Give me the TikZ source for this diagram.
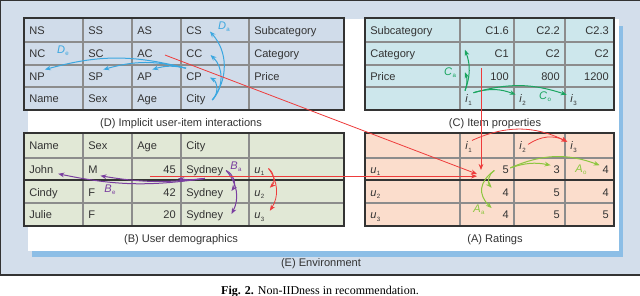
\documentclass[tikz,border=0pt]{standalone}
\usepackage{fontspec}
\setmainfont{Liberation Sans}
\newfontfamily\capfont{Liberation Serif}
\usetikzlibrary{arrows.meta, calc}

\definecolor{envbg}{HTML}{D3DEEB}
\definecolor{shadowblue}{HTML}{8CBEE6}
\definecolor{implbg}{HTML}{D0DCEA}
\definecolor{itembg}{HTML}{CDE7EC}
\definecolor{userbg}{HTML}{E1E8D6}
\definecolor{ratebg}{HTML}{FBDDCC}
\definecolor{txt}{HTML}{333333}
\definecolor{dblue}{HTML}{3BA7E0}
\definecolor{cgreen}{HTML}{1AA560}
\definecolor{bpurple}{HTML}{7A3FA0}
\definecolor{agreen}{HTML}{8DC63F}
\definecolor{rred}{HTML}{EE3B3B}

\newcommand\varlab[2]{\textit{#1}\kern0.3pt\raisebox{-1.6pt}{\fontsize{4.6}{5}\selectfont #2}}

\tikzset{
  cell0/.style={anchor=base west, inner sep=0pt, text height=6pt, text depth=1.5pt,
    font=\fontsize{8.3}{10}\selectfont, text=txt},
  cell1/.style={cell0, anchor=base east},
  cellline/.style={draw=gray!90, line width=0.8pt},
  tabframe/.style={draw=txt, line width=1.3pt},
  link/.style={-{Stealth[length=4.5pt,width=3.5pt]}, line width=0.75pt},
  dlink/.style={link, draw=dblue},
  clink/.style={link, draw=cgreen},
  blink/.style={link, draw=bpurple},
  alink/.style={link, draw=agreen},
  rlink/.style={link, draw=rred, line width=0.6pt},
  lbl/.style={inner sep=0pt, font=\fontsize{8.3}{10}\selectfont},
  panel/.style={anchor=base, font=\fontsize{8.3}{10}\selectfont, text=txt},
}

\begin{document}
\begin{tikzpicture}[x=0.75pt, y=-0.75pt]
  \useasboundingbox (0,0) rectangle (640,296);
  \fill[white] (0,0) rectangle (640,296);
  % environment
  \filldraw[fill=envbg, draw=txt, line width=1pt] (0.5,0.5) rectangle (646,275);
  \fill[shadowblue] (32,26) rectangle (623,257);
  \fill[white] (28,19) rectangle (619,251);

  % (D) implicit user-item interactions
  \fill[implbg] (24,18) rectangle (344,110);
  \foreach \x in {83,132,181,249} \draw[cellline] (\x,18) -- (\x,110);
  \foreach \y in {42,65,87} \draw[cellline] (24,\y) -- (344,\y);
  \draw[tabframe] (24,18) rectangle (344,110);
  \foreach \row [count=\r] in {{NS/0,SS/0,AS/0,CS/0,Subcategory/0},{NC/0,SC/0,AC/0,CC/0,Category/0},
      {NP/0,SP/0,AP/0,CP/0,Price/0},{Name/0,Sex/0,Age/0,City/0}}
    \foreach \t/\a [count=\c] in \row {
      \pgfmathsetmacro\x{\a ? {24,83,132,181,249,344}[\c]-5 : {24,83,132,181,249,344}[\c-1]+5}
      \pgfmathsetmacro\y{{34.5,58,80.5,103}[\r-1]}
      \node[cell\a] (D-\r-\c) at (\x,\y) {\t};
    }

  % (C) item properties
  \fill[itembg] (365,18) rectangle (614,110);
  \foreach \x in {460,514,565} \draw[cellline] (\x,18) -- (\x,110);
  \foreach \y in {42,65,87} \draw[cellline] (365,\y) -- (614,\y);
  \draw[tabframe] (365,18) rectangle (614,110);
  \foreach \row [count=\r] in {{Subcategory/0,C1.6/1,C2.2/1,C2.3/1},{Category/0,C1/1,C2/1,C2/1},
      {Price/0,100/1,800/1,1200/1},{/0,\varlab{i}{1}/0,\varlab{i}{2}/0,\varlab{i}{3}/0}}
    \foreach \t/\a [count=\c] in \row {
      \pgfmathsetmacro\x{\a ? {365,460,514,565,614}[\c]-5 : {365,460,514,565,614}[\c-1]+5}
      \pgfmathsetmacro\y{{34.5,58,80.5,103}[\r-1]}
      \node[cell\a] (C-\r-\c) at (\x,\y) {\t};
    }

  % (B) user demographics
  \fill[userbg] (24,133) rectangle (344,226);
  \foreach \x in {83,132,181,249} \draw[cellline] (\x,133) -- (\x,226);
  \foreach \y in {158,203} \draw[cellline] (24,\y) -- (344,\y);
  \draw[tabframe] (24,180) -- (344,180);
  \draw[tabframe] (24,133) rectangle (344,226);
  \foreach \row [count=\r] in {{Name/0,Sex/0,Age/0,City/0},{John/0,M/0,45/1,Sydney/0,\varlab{u}{1}/0},
      {Cindy/0,F/0,42/1,Sydney/0,\varlab{u}{2}/0},{Julie/0,F/0,20/1,Sydney/0,\varlab{u}{3}/0}}
    \foreach \t/\a [count=\c] in \row {
      \pgfmathsetmacro\x{\a ? {24,83,132,181,249,344}[\c]-5 : {24,83,132,181,249,344}[\c-1]+5}
      \pgfmathsetmacro\y{{150,173.5,196,219}[\r-1]}
      \node[cell\a] (B-\r-\c) at (\x,\y) {\t};
    }

  % (A) ratings
  \fill[ratebg] (365,133) rectangle (614,226);
  \foreach \x in {460,514,565} \draw[cellline] (\x,133) -- (\x,226);
  \foreach \y in {158,203} \draw[cellline] (365,\y) -- (614,\y);
  \draw[tabframe] (365,180) -- (614,180);
  \draw[tabframe] (365,133) rectangle (614,226);
  \foreach \row [count=\r] in {{/0,\varlab{i}{1}/0,\varlab{i}{2}/0,\varlab{i}{3}/0},{\varlab{u}{1}/0,5/1,3/1,4/1},
      {\varlab{u}{2}/0,4/1,5/1,4/1},{\varlab{u}{3}/0,4/1,5/1,5/1}}
    \foreach \t/\a [count=\c] in \row {
      \pgfmathsetmacro\x{\a ? {365,460,514,565,614}[\c]-5 : {365,460,514,565,614}[\c-1]+5}
      \pgfmathsetmacro\y{{150,173.5,196,219}[\r-1]}
      \node[cell\a] (A-\r-\c) at (\x,\y) {\t};
    }

  % panel titles
  \node[panel] (tD) at (181,126.5) {(D) Implicit user-item interactions};
  \node[panel] (tC) at (495,126.5) {(C) Item properties};
  \node[panel] (tB) at (181,242.5) {(B) User demographics};
  \node[panel] (tA) at (495,242.5) {(A) Ratings};
  \node[panel] (tE) at (321,266.5) {(E) Environment};
  \node[anchor=base, font=\capfont\fontsize{9}{11}\selectfont] (fig) at (320,294)
    {\textbf{Fig. 2.} Non-IIDness in recommendation.};

  % couplings in D
  \foreach \r/\b in {1/40,2/45,3/55}
    \draw[dlink] ([xshift=5pt]D-4-4.east) to[bend right=\b] ([xshift=6pt]D-\r-4.east);
  \foreach \c in {3,2,1}
    \draw[dlink] ([yshift=3pt]D-3-4.north west) to[bend right=15] ([yshift=2pt]D-3-\c.north east);
  \node[lbl, text=dblue] (Da) at (224,27) {\varlab{D}{a}};
  \node[lbl, text=dblue] (De) at (63,51) {\varlab{D}{e}};

  % couplings in C
  \draw[clink] ([yshift=3pt]C-4-2.north west) to[bend right=20] (C-4-2.north west |- C-3-1.north);
  \draw[clink] ([yshift=3pt]C-4-2.north west) to[bend right=20] (C-4-2.north west |- C-2-1.north);
  \foreach \c/\b in {3/19,4/17}
    \draw[clink] ([xshift=1pt,yshift=1.5pt]C-4-2.north east) to[bend left=\b] ([xshift=-2.5pt]C-4-\c.north west);
  \node[lbl, text=cgreen] (Ca) at (450,73) {\varlab{C}{a}};
  \node[lbl, text=cgreen] (Co) at (545,97) {\varlab{C}{o}};

  % couplings in B
  \foreach \r/\b in {3/50,4/35}
    \draw[blink] ([xshift=2pt]B-2-4.east) to[bend left=\b] ([xshift=6pt,yshift=1.5pt]B-\r-4.east);
  \draw[blink] ([yshift=-2pt]B-2-4.south) to[bend left=10] ([xshift=1.5pt,yshift=-2pt]B-2-3.south east);
  \draw[blink] ([yshift=-2pt]B-2-4.south) to[bend left=8] ([xshift=2pt]B-2-2.south east);
  \draw[blink] ([yshift=-2pt]B-2-4.south) to[bend left=10] ([xshift=3.5pt,yshift=1.5pt]B-2-1.south east);
  \node[lbl, text=bpurple] (Ba) at (236,167) {\varlab{B}{a}};
  \node[lbl, text=bpurple] (Be) at (110,190) {\varlab{B}{e}};
  \foreach \r/\b in {3/50,4/35}
    \draw[rlink] ([xshift=3pt,yshift=1.5pt]B-2-5.east) to[bend left=\b] ([xshift=4pt]B-\r-5.north east);

  % couplings in A
  \draw[rlink] ([yshift=1pt]A-1-2.north east) to[bend left=25] ([xshift=-2pt]A-1-4.north west);
  \draw[rlink] ([xshift=1.5pt,yshift=-2pt]A-1-3.north east) to[bend left=30] ([xshift=-2pt]A-1-4.north west);
  \foreach \c/\b in {3/15,4/22}
    \draw[alink] ([xshift=1pt,yshift=-2pt]A-2-2.north east) to[bend left=\b] ([xshift=-2pt]A-2-\c.north west);
  \draw[alink] ([xshift=-6pt]A-2-2.west) to[bend right=50] ([xshift=-8pt]A-3-2.north west);
  \draw[alink] ([xshift=-6pt]A-2-2.west) to[bend right=50, looseness=1.3] ([xshift=-8pt,yshift=2pt]A-4-2.north west);
  \node[lbl, text=agreen] (Ao) at (581,170) {\varlab{A}{o}};
  \node[lbl, text=agreen] (Aa) at (479,210) {\varlab{A}{a}};

  % links between the panels
  \coordinate (hub) at (481,172);
  \draw[rlink] ([xshift=9pt]D-2-3.east) -- ($(hub)+(-4,2)$);
  \draw[rlink] ($(hub |- C-3-2.north)+(0,-4)$) -- ([yshift=1.5pt]hub);
  \draw[rlink] ([xshift=-10pt,yshift=-2pt]B-2-3.base west) coordinate (h0) -- ($(h0 -| hub)+(-4,0)$);
\end{tikzpicture}
\end{document}
